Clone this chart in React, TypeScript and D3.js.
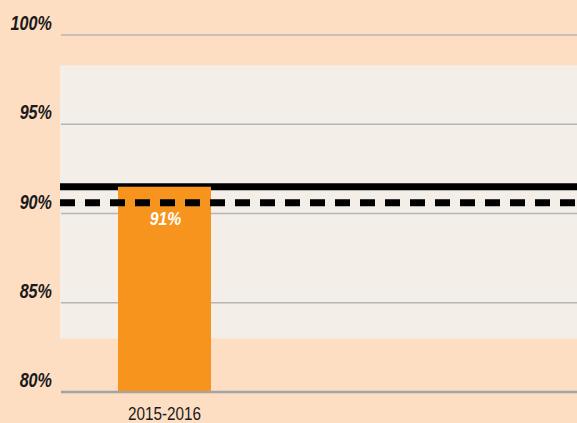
import React from "react";
import * as d3 from "d3";

const categories = ["2015-2016"];
const values = [91.5];
const valueLabels = ["91%"];
const tickValues = [80, 85, 90, 95, 100];
const tickLabels = ["80%", "85%", "90%", "95%", "100%"];
const shadedRange = [83, 98.3];
const solidLineValue = 91.5;
const dashedLineValue = 90.6;

const W = 577;
const H = 423;

export default function App() {
  const y = d3.scaleLinear().domain([80, 100]).range([392, 35]);
  const x = d3.scaleBand<string>().domain(categories).range([118, 211]).padding(0);
  const left = 60;
  const right = W;
  const font = "'Liberation Sans', Arial, sans-serif";
  const sx = 0.83;

  return (
    <svg
      width={W}
      height={H}
      style={{ position: "fixed", left: 0, top: 0, display: "block" }}
    >
      <rect x={0} y={0} width={W} height={H} fill="#FDDEC3" />
      <rect
        x={left}
        y={y(shadedRange[1])}
        width={right - left}
        height={y(shadedRange[0]) - y(shadedRange[1])}
        fill="#F3EFE8"
      />
      {tickValues.map((t, i) => (
        <g key={t}>
          <line
            x1={left + 1}
            x2={right}
            y1={y(t)}
            y2={y(t)}
            stroke={t === 80 ? "#a3a3a3" : "#b5b5b5"}
            strokeWidth={t === 80 ? 2.5 : 1.5}
          />
          <text
            transform={`translate(52,${y(t) - 5}) scale(${sx},1)`}
            textAnchor="end"
            fontFamily={font}
            fontWeight="bold"
            fontStyle="italic"
            fontSize={19.5}
            fill="#1a1a1a"
          >
            {tickLabels[i]}
          </text>
        </g>
      ))}
      <line
        x1={left}
        x2={right}
        y1={y(solidLineValue)}
        y2={y(solidLineValue)}
        stroke="#000"
        strokeWidth={7}
      />
      {categories.map((c, i) => (
        <g key={c}>
          <rect
            x={x(c)!}
            y={y(values[i])}
            width={x.bandwidth()}
            height={y(80) - y(values[i]) - 1}
            fill="#F7941D"
          />
          <text
            transform={`translate(${x(c)! + x.bandwidth() / 2},420) scale(0.85,1)`}
            textAnchor="middle"
            fontFamily={font}
            fontSize={18}
            fill="#1a1a1a"
          >
            {c}
          </text>
        </g>
      ))}
      <line
        x1={left}
        x2={right}
        y1={y(dashedLineValue)}
        y2={y(dashedLineValue)}
        stroke="#000"
        strokeWidth={7}
        strokeDasharray="15,10"
      />
      {categories.map((c, i) => (
        <text
          key={c + "-v"}
          transform={`translate(${x(c)! + x.bandwidth() / 2 + 1},225) scale(0.85,1)`}
          textAnchor="middle"
          fontFamily={font}
          fontWeight="bold"
          fontStyle="italic"
          fontSize={18.5}
          fill="#fff"
        >
          {valueLabels[i]}
        </text>
      ))}
    </svg>
  );
}
